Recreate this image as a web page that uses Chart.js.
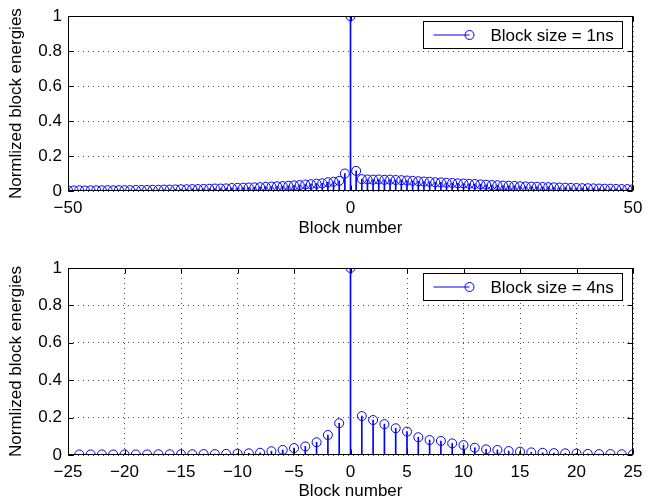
<!DOCTYPE html>
<html>
<head>
<meta charset="utf-8">
<script src="https://cdn.jsdelivr.net/npm/chart.js@4/dist/chart.umd.min.js"></script>
<style>
html,body{margin:0;padding:0;background:#fff;}
#wrap{position:relative;width:662px;height:503px;}
canvas{position:absolute;left:0;}
#c1{top:0;}
#c2{top:251px;}
</style>
</head>
<body>
<div id="wrap">
<canvas id="c1" width="662" height="251"></canvas>
<canvas id="c2" width="662" height="252"></canvas>
</div>
<script>
// ---- Data ----
const topBlocks = [];
for (let k = -50; k <= 50; k++) topBlocks.push(k);
const topEnergies = [
  0.003,0.003,0.004,0.003,0.004,0.004,0.004,0.005,0.004,0.005,
  0.005,0.005,0.006,0.006,0.006,0.007,0.007,0.008,0.008,0.009,
  0.010,0.010,0.011,0.011,0.012,0.013,0.014,0.014,0.015,0.017,
  0.018,0.019,0.020,0.021,0.022,0.024,0.025,0.027,0.028,0.030,
  0.032,0.034,0.037,0.039,0.042,0.044,0.050,0.053,0.058,0.100,
  1.000,
  0.115,0.068,0.066,0.065,0.066,0.064,0.065,0.063,0.062,0.060,
  0.058,0.056,0.054,0.053,0.050,0.049,0.047,0.046,0.044,0.043,
  0.041,0.040,0.038,0.036,0.034,0.033,0.031,0.030,0.029,0.027,
  0.026,0.025,0.024,0.023,0.022,0.021,0.020,0.019,0.018,0.017,
  0.016,0.016,0.015,0.014,0.013,0.013,0.012,0.011,0.011,0.010
];
const bottomBlocks = [];
for (let k = -24; k <= 25; k++) bottomBlocks.push(k);
const bottomEnergies = [
  0.003,0.003,0.003,0.003,0.003,0.003,0.003,0.004,0.004,0.004,
  0.004,0.005,0.005,0.006,0.007,0.009,0.012,0.020,0.027,0.037,
  0.046,0.068,0.107,0.170,
  1.000,
  0.208,0.187,0.165,0.143,0.125,0.095,0.080,0.075,0.062,0.053,
  0.039,0.030,0.027,0.021,0.018,0.014,0.012,0.010,0.009,0.008,
  0.006,0.005,0.005,0.004,0.004
];
const topXTicks = [-50, 0, 50];
const bottomXTicks = [-25,-20,-15,-10,-5,0,5,10,15,20,25];
const yTicks = [0, 0.2, 0.4, 0.6, 0.8, 1];
const topLegend = 'Block size = 1ns';
const bottomLegend = 'Block size = 4ns';
const xTitle = 'Block number';
const yTitle = 'Normlized block energies';

// ---- Style ----
const FONT = '"Liberation Sans", Arial, Helvetica, sans-serif';
const FS = 17;
const BLUE = '#0000ff';

function fmt(v) {
  let s = String(Math.round(v * 10) / 10);
  return s.replace('-', '\u2212');
}

const framePlugin = {
  id: 'frame',
  afterDraw(chart, args, opts) {
    const {ctx, chartArea: a, scales} = chart;
    ctx.save();
    ctx.strokeStyle = '#000';
    ctx.lineWidth = 1;
    const L = Math.round(a.left) + 0.5, R = Math.round(a.right) - 0.5;
    const T = Math.round(a.top) + 0.5, B = Math.round(a.bottom) - 0.5;
    const tl = 5;
    ctx.beginPath();
    opts.xticks.forEach(v => {
      const px = Math.round(scales.x.getPixelForValue(v)) + 0.5;
      ctx.moveTo(px, B); ctx.lineTo(px, B - tl);
      ctx.moveTo(px, T); ctx.lineTo(px, T + tl);
    });
    opts.yticks.forEach(v => {
      const py = Math.round(scales.y.getPixelForValue(v)) + 0.5;
      ctx.moveTo(L, py); ctx.lineTo(L + tl, py);
      ctx.moveTo(R, py); ctx.lineTo(R - tl, py);
    });
    ctx.stroke();
    ctx.strokeRect(L, T, R - L, B - T);
    // legend
    const w = 199, h = 27;
    const bx = Math.round(a.right) - 11 - w + 0.5;
    const by = Math.round(a.top) + 5 + 0.5;
    ctx.fillStyle = '#fff';
    ctx.fillRect(bx, by, w, h);
    ctx.strokeRect(bx, by, w, h);
    const cy = by + h / 2;
    ctx.strokeStyle = BLUE;
    ctx.beginPath();
    ctx.moveTo(bx + 10, cy); ctx.lineTo(bx + 46, cy);
    ctx.stroke();
    ctx.beginPath();
    ctx.arc(bx + 46, cy, 4.5, 0, Math.PI * 2);
    ctx.stroke();
    ctx.fillStyle = '#000';
    ctx.font = FS + 'px ' + FONT;
    ctx.textBaseline = 'middle';
    ctx.textAlign = 'left';
    ctx.fillText(opts.label, bx + 67, cy + 1);
    ctx.restore();
  }
};

function makeChart(id, xs, ys, xmin, xmax, xticks, label, padTop, xScaleH, xTitlePadBottom) {
  const stems = xs.map((x, i) => ({x: x, y: ys[i]}));
  return new Chart(document.getElementById(id), {
    type: 'bar',
    data: {
      datasets: [
        {
          type: 'bar',
          data: stems,
          backgroundColor: BLUE,
          borderWidth: 0,
          barThickness: 1,
          order: 2
        },
        {
          type: 'scatter',
          data: stems,
          showLine: false,
          pointRadius: 4.5,
          pointHoverRadius: 4.5,
          pointBorderWidth: 1,
          pointBorderColor: BLUE,
          pointBackgroundColor: 'rgba(0,0,0,0)',
          order: 1
        }
      ]
    },
    options: {
      responsive: false,
      animation: false,
      devicePixelRatio: 1,
      events: [],
      layout: {padding: {top: padTop, right: 29, left: 0, bottom: 0}},
      plugins: {
        legend: {display: false},
        tooltip: {enabled: false},
        frame: {xticks: xticks, yticks: yTicks, label: label}
      },
      scales: {
        x: {
          type: 'linear',
          offset: false,
          min: xmin, max: xmax,
          afterBuildTicks(s) { s.ticks = xticks.map(v => ({value: v})); },
          afterFit(s) { s.height = xScaleH; },
          ticks: {
            autoSkip: false, maxRotation: 0,
            padding: 7,
            color: '#000',
            font: {family: FONT, size: FS},
            callback: v => fmt(v)
          },
          grid: {
            offset: false,
            drawTicks: false,
            color: 'rgba(0,0,0,0.7)',
            lineWidth: 1
          },
          border: {display: false, dash: [1, 4]},
          title: {
            display: true, text: xTitle, color: '#000',
            font: {family: FONT, size: FS},
            padding: {top: 0, bottom: xTitlePadBottom}
          }
        },
        y: {
          min: 0, max: 1,
          afterBuildTicks(s) { s.ticks = yTicks.map(v => ({value: v})); },
          afterFit(s) { s.width = 68; },
          ticks: {
            padding: 6,
            color: '#000',
            font: {family: FONT, size: FS},
            callback: v => fmt(v)
          },
          grid: {
            drawTicks: false,
            color: 'rgba(0,0,0,0.7)',
            lineWidth: 1
          },
          border: {display: false, dash: [1, 4]},
          title: {
            display: true, text: yTitle, color: '#000',
            font: {family: FONT, size: FS},
            padding: {top: 5.8, bottom: 0}
          }
        }
      }
    },
    plugins: [framePlugin]
  });
}

makeChart('c1', topBlocks, topEnergies, -50, 50, topXTicks, topLegend, 8, 60, 12.8);
makeChart('c2', bottomBlocks, bottomEnergies, -25, 25, bottomXTicks, bottomLegend, 17, 48, 1.8);
</script>
</body>
</html>
